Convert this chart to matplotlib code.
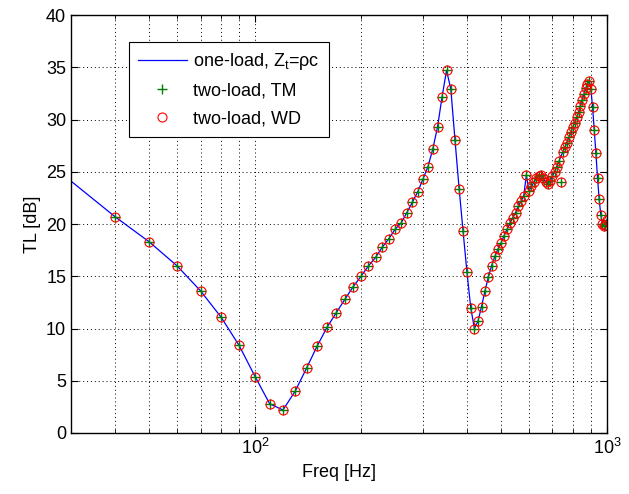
import numpy as np
import matplotlib
matplotlib.use('Agg')
import matplotlib.pyplot as plt

plt.rcParams['font.family'] = ['Liberation Sans', 'DejaVu Sans']
plt.rcParams['font.size'] = 13

# frequency grid [Hz], 30 .. 1000 in 10 Hz steps
freq = np.arange(30, 1001, 10)

# transmission loss, one-load method with Zt = rho*c
tl_one = np.array([
    24.1, 20.7, 18.3, 16.0, 13.6, 11.1, 8.4, 5.4, 2.8, 2.2,
    4.0, 6.2, 8.3, 10.1, 11.5, 12.8, 14.0, 15.0, 16.0, 16.8,
    17.8, 18.6, 19.5, 20.1, 21.1, 22.1, 23.1, 24.3, 25.5, 27.2,
    29.3, 32.2, 34.7, 32.9, 28.0, 23.4, 19.3, 15.4, 12.0, 10.0,
    10.7, 12.1, 13.6, 14.9, 16.0, 16.9, 17.6, 18.2, 18.9, 19.5,
    20.1, 20.6, 21.1, 21.7, 22.2, 22.7, 24.7, 23.2, 23.6, 24.0,
    24.4, 24.6, 24.7, 24.4, 24.0, 23.8, 24.1, 24.6, 25.0, 25.5,
    26.0, 26.5, 26.9, 27.4, 27.8, 28.3, 28.8, 29.3, 29.7, 30.2,
    30.7, 31.3, 31.9, 32.4, 33.0, 33.4, 33.7, 32.9, 31.2, 29.0,
    26.8, 24.4, 22.4, 20.9, 20.0, 19.8, 19.9, 20.4,
])

# two-load results (transfer matrix / wave decomposition), measured from 40 Hz
tl_tm = tl_one.copy()
tl_tm[freq == 740] = 24.0
tl_wd = tl_tm.copy()

fig = plt.figure(figsize=(6.29, 4.94), dpi=100)
ax = fig.add_axes([0.113, 0.1235, 0.852, 0.846])

ax.semilogx(freq, tl_one, '-', color=(0, 0, 1), lw=0.9, label=r'one-load, Z$_\mathregular{t}$=ρc')
ax.semilogx(freq[1:], tl_tm[1:], '+', color=(0, 0.5, 0), ms=7, mew=1.0, label='two-load, TM')
ax.semilogx(freq[1:], tl_wd[1:], 'o', mfc='none', mec='red', ms=6.5, mew=0.8, label='two-load, WD')

ax.set_xlim(30, 1000)
ax.set_ylim(0, 40)
ax.set_yticks(np.arange(0, 41, 5))
ax.set_xlabel('Freq [Hz]')
ax.set_ylabel('TL [dB]')

ax.grid(True, which='both', axis='x', color='black', linestyle=(0, (1, 3)), lw=0.7)
ax.grid(True, which='major', axis='y', color='black', linestyle=(0, (1, 3)), lw=0.7)
ax.tick_params(which='both', direction='in', top=True, right=True)
ax.tick_params(which='major', length=5)
ax.tick_params(which='minor', length=3)
for s in ax.spines.values():
    s.set_linewidth(1.0)

leg = ax.legend(loc='upper left', bbox_to_anchor=(0.108, 0.936), borderaxespad=0,
                fancybox=False, edgecolor='black', framealpha=1,
                handlelength=2.7, handletextpad=0.35, labelspacing=0.6, borderpad=0.5)
leg.get_frame().set_linewidth(0.8)

fig.savefig('out.png', dpi=100)
